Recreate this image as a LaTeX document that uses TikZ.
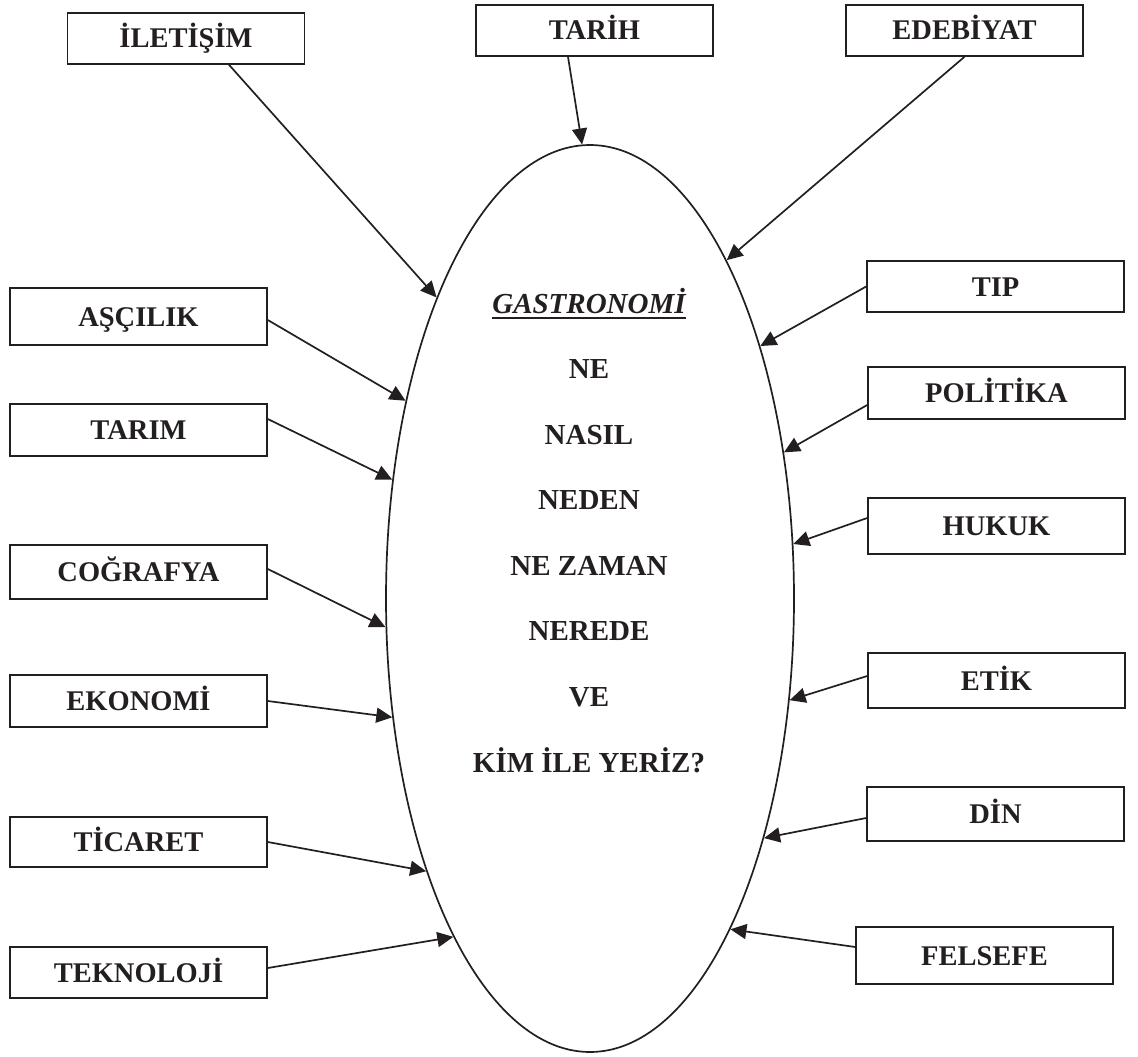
\documentclass[tikz,border=0pt]{standalone}
\usepackage{fontspec}
\setmainfont{Liberation Serif}
\usetikzlibrary{shapes.geometric,arrows.meta}
\definecolor{ink}{RGB}{35,31,32}
\begin{document}
\begin{tikzpicture}[x=1pt,y=-1pt,
  lbl/.style={draw=ink,line width=1.6pt,minimum width=257pt,minimum height=53pt,inner sep=0pt,
    text=ink,font=\bfseries\fontsize{28.5}{30}\selectfont,text height=19pt,text depth=0pt},
  topbox/.style={lbl,minimum width=237pt,minimum height=51pt},
  qtext/.style={anchor=base,inner sep=0pt,text=ink,font=\bfseries\fontsize{29}{30}\selectfont},
  conn/.style={draw=ink,line width=1.7pt,-{Triangle[length=16pt,width=15pt]}}]
\useasboundingbox (0,0) rectangle (1138,1057);
\fill[white] (0,0) rectangle (1138,1057);

% central ellipse
\node[ellipse,draw=ink,line width=1.7pt,minimum width=408pt,minimum height=907pt,inner sep=0pt] (g) at (590,598.5) {};

% text in ellipse
\node[qtext,font=\bfseries\itshape\fontsize{29}{30}\selectfont] (gas) at (589,313) {GASTRONOMİ};
\draw[ink,line width=2.2pt] ([yshift=-5pt]gas.base west) -- ([yshift=-5pt]gas.base east);
\node[qtext] (q1) at (589,378) {NE};
\node[qtext] (q2) at (589,444) {NASIL};
\node[qtext] (q3) at (589,509) {NEDEN};
\node[qtext] (q4) at (589,575) {NE ZAMAN};
\node[qtext] (q5) at (589,640) {NEREDE};
\node[qtext] (q6) at (589,706) {VE};
\node[qtext] (q7) at (589,772) {KİM İLE YERİZ?};

% top boxes
\node[topbox] (ilet) at (186,38.5) {İLETİŞİM};
\node[topbox] (tarih) at (594.5,30.5) {TARİH};
\node[topbox] (edeb) at (964.5,30.5) {EDEBİYAT};

% left boxes
\node[lbl,minimum height=57pt] (asc) at (138.5,316.5) {AŞÇILIK};
\node[lbl,minimum height=52pt] (tarim) at (138.5,430) {TARIM};
\node[lbl,minimum height=54pt] (cog) at (138.5,572) {COĞRAFYA};
\node[lbl,minimum height=52pt] (eko) at (138.5,701) {EKONOMİ};
\node[lbl,minimum height=50pt] (tic) at (138.5,842) {TİCARET};
\node[lbl,minimum height=51pt] (tek) at (138.5,972.5) {TEKNOLOJİ};

% right boxes
\node[lbl,minimum height=51pt] (tip) at (995.5,286.5) {TIP};
\node[lbl,minimum height=52pt] (pol) at (996.5,393) {POLİTİKA};
\node[lbl,minimum height=56pt] (huk) at (996.5,526) {HUKUK};
\node[lbl,minimum height=55pt] (etik) at (996.5,680.5) {ETİK};
\node[lbl,minimum height=54pt] (din) at (995.5,814) {DİN};
\node[lbl,minimum height=57pt] (fel) at (984.5,955.5) {FELSEFE};

% connectors
\draw[conn] ([xshift=43pt]ilet.south) -- (g.117.7);
\draw[conn] ([xshift=-26.5pt]tarih.south) -- (g.91.6);
\draw[conn] (edeb.south) -- (g.68.6);
\draw[conn] ([yshift=-3.5pt]asc.east) -- (g.133.1);
\draw[conn] ([yshift=11pt]tarim.east) -- (g.149.3);
\draw[conn] ([yshift=3pt]cog.east) -- (g.188.5);
\draw[conn] (eko.east) -- (g.211.7);
\draw[conn] (tic.east) -- (g.239.0);
\draw[conn] ([yshift=4.5pt]tek.east) -- (g.248.7);
\draw[conn] (tip.west) -- (g.56.2);
\draw[conn] ([yshift=-12pt]pol.west) -- (g.37.4);
\draw[conn] ([yshift=8pt]huk.west) -- (g.15.0);
\draw[conn] ([yshift=4.5pt]etik.west) -- (g.-27.7);
\draw[conn] ([yshift=-4pt]din.west) -- (g.-54.5);
\draw[conn] ([yshift=8.5pt]fel.west) -- (g.-67.3);
\end{tikzpicture}
\end{document}
